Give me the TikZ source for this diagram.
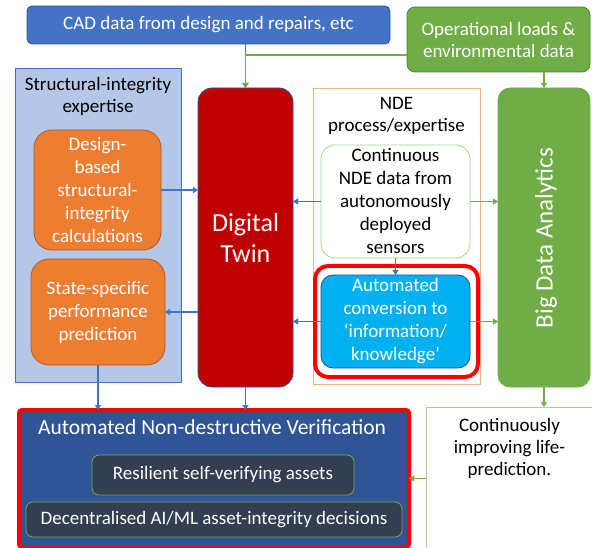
\documentclass[tikz,border=0pt]{standalone}
\usepackage{fontspec}
\setmainfont{Carlito}
\usetikzlibrary{arrows.meta}
\definecolor{cadblue}{HTML}{4472C4}
\definecolor{cadedge}{HTML}{2F528F}
\definecolor{opgreen}{HTML}{70AD47}
\definecolor{opedge}{HTML}{507E32}
\definecolor{lightblue}{HTML}{B4C7E7}
\definecolor{orng}{HTML}{ED7D31}
\definecolor{orngedge}{HTML}{AE5A21}
\definecolor{dtred}{HTML}{C00000}
\definecolor{ndeedge}{HTML}{F4B183}
\definecolor{lightgreen}{HTML}{A9D18E}
\definecolor{cyanfill}{HTML}{00B0F0}
\definecolor{avnblue}{HTML}{2F5597}
\definecolor{slate}{HTML}{333F50}
\definecolor{hired}{HTML}{FF0000}
\tikzset{
  base/.style={inner sep=0pt, outer sep=0pt, align=center, font=\fontsize{19}{23}\selectfont},
  bluebox/.style={base, draw=cadedge, fill=cadblue, text=white, line width=0.8pt, rounded corners=5pt},
  greenbox/.style={base, draw=opedge, fill=opgreen, text=white, line width=0.8pt, rounded corners=8pt},
  orangebox/.style={base, draw=orngedge, fill=orng, text=white, line width=0.8pt, rounded corners=18pt},
  darkbox/.style={base, draw=opgreen, fill=slate, text=white, line width=0.8pt, rounded corners=7pt},
  plain/.style={base, text=black},
  barrow/.style={draw=cadblue, line width=1.5pt, -{Triangle[length=5pt,width=6pt]}},
  garrow/.style={draw=opgreen, line width=1.5pt, -{Triangle[length=5pt,width=6pt]}},
}
\begin{document}
\begin{tikzpicture}[x=1pt,y=-1pt]
\useasboundingbox (0,0) rectangle (592,548);
\clip (0,0) rectangle (592,548);

% top boxes
\node[bluebox, minimum width=363pt, minimum height=38pt] (cad) at (208.5,25) {CAD data from design and repairs, etc};
\node[greenbox, minimum width=183pt, minimum height=65pt, font=\fontsize{19}{22}\selectfont] (op) at (498.5,39.5) {Operational loads \&\\environmental data};

% structural-integrity panel
\node[base, draw=cadblue, fill=lightblue, line width=0.8pt, minimum width=166pt, minimum height=314pt] (si) at (98,225) {};
\node[plain, font=\fontsize{19}{22}\selectfont] (sititle) at (98,96) {Structural-integrity\\expertise};
\node[orangebox, minimum width=127pt, minimum height=120pt] (design) at (97.5,190) {Design-\\based\\structural-\\integrity\\calculations};
\node[orangebox, minimum width=134pt, minimum height=106pt] (state) at (98,312) {State-specific\\performance\\prediction};

% digital twin
\node[base, draw=cadedge, fill=dtred, text=white, line width=0.8pt, rounded corners=14pt, minimum width=95pt, minimum height=299pt, font=\fontsize{26}{31}\selectfont] (dt) at (245.5,237.5) {Digital\\Twin};

% NDE panel
\node[base, draw=ndeedge, fill=white, line width=0.8pt, minimum width=167pt, minimum height=296pt] (nde) at (396.5,236) {};
\node[plain, font=\fontsize{19}{22}\selectfont] (ndetitle) at (396.5,116) {NDE\\process/expertise};
\node[base, draw=lightgreen, fill=white, text=black, line width=0.8pt, rounded corners=14pt, minimum width=149pt, minimum height=113pt] (cont) at (395.5,201.5) {Continuous\\NDE data from\\autonomously\\deployed\\sensors};
\node[base, draw=hired, line width=4pt, rounded corners=13pt, minimum width=163pt, minimum height=111pt] (hilite) at (396.5,321.5) {};
\node[base, draw=cadedge, fill=cyanfill, text=white, line width=0.8pt, rounded corners=12pt, minimum width=149pt, minimum height=93pt] (auto) at (395.5,321.5) {Automated\\conversion to\\‘information/\\knowledge’};

% big data analytics
\node[base, draw=opgreen, fill=opgreen, text=white, line width=0.8pt, rounded corners=12pt, minimum width=92pt, minimum height=299pt] (bda) at (544,237.5) {};
\node[base, text=white, rotate=90, font=\fontsize{25}{30}\selectfont] (bdatext) at (546,238) {Big Data Analytics};

% continuously improving
\node[base, draw=lightgreen, fill=white, line width=0.8pt, minimum width=174pt, minimum height=150pt] (imp) at (513,482) {};
\node[plain, font=\fontsize{19}{22}\selectfont] (imptext) at (509.5,448) {Continuously\\improving life-\\prediction.};

% AVN
\node[base, draw=hired, fill=avnblue, line width=4pt, rounded corners=3pt, minimum width=390pt, minimum height=137pt] (avn) at (214,478.5) {};
\node[base, text=white, font=\fontsize{21.5}{25}\selectfont] (avntitle) at (212,427) {Automated Non-destructive Verification};
\node[darkbox, minimum width=262pt, minimum height=40pt] (res) at (223,475) {Resilient self-verifying assets};
\node[darkbox, minimum width=376pt, minimum height=35pt] (dec) at (214,519.5) {Decentralised AI/ML asset-integrity decisions};

% connectors
\coordinate (j) at (245.5,55);
\draw[barrow] (dt.north |- cad.south) -- (dt.north);
\draw[garrow] (op.west |- j) -- (j) -- (dt.north);
\draw[garrow] (op.south -| bda.north) -- (bda.north);
\draw[barrow] (design.east) -- (design.east -| dt.west);
\draw[barrow] (state.east -| dt.west) -- (state.east);
\draw[barrow] (state.south) -- (state.south |- avn.north);
\draw[barrow] (dt.south) -- (dt.south |- avn.north);
\draw[barrow] (cont.west) -- (cont.west -| dt.east);
\draw[garrow] (cont.east) -- (cont.east -| bda.west);
\draw[barrow] (cont.south) -- (auto.north);
\draw[barrow] (auto.west) -- (auto.west -| dt.east);
\draw[garrow] (auto.east) -- (auto.east -| bda.west);
\draw[garrow] (bda.south) -- (bda.south |- imp.north);
\draw[garrow] (imp.west |- avn.east) -- (avn.east);
\end{tikzpicture}
\end{document}
